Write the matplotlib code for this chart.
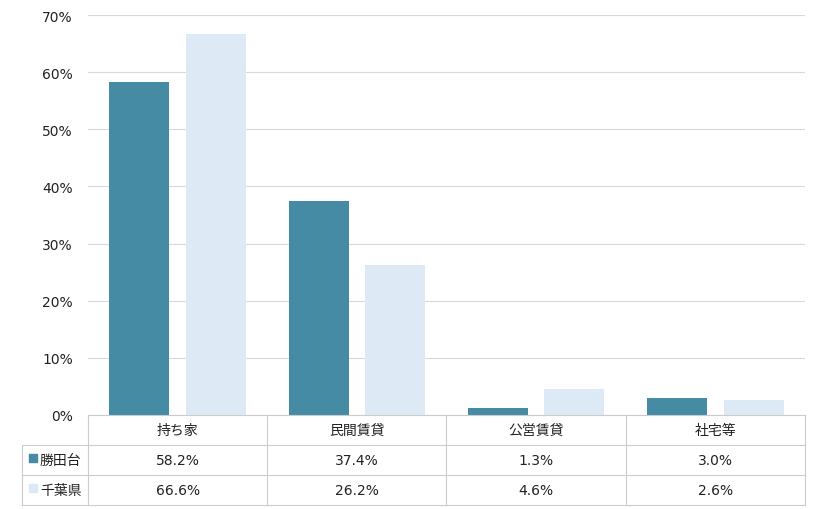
import matplotlib
matplotlib.use("Agg")
import matplotlib.pyplot as plt
import numpy as np

plt.rcParams['font.family'] = ['DejaVu Sans', 'Noto Sans CJK JP']

categories = ['持ち家', '民間賃貸', '公営賃貸', '社宅等']
series_names = ['勝田台', '千葉県']
katsutadai = [58.2, 37.4, 1.3, 3.0]
chiba = [66.6, 26.2, 4.6, 2.6]
yticks = [0, 10, 20, 30, 40, 50, 60, 70]
colors = ['#458BA3', '#DDE9F5']

W, H = 820, 510
fig = plt.figure(figsize=(W / 100, H / 100), dpi=100)

# plot area in pixels
px_left, px_right, px_top, px_bottom = 88, 805, 16, 416
ax = fig.add_axes([px_left / W, 1 - px_bottom / H, (px_right - px_left) / W, (px_bottom - px_top) / H])

x = np.arange(len(categories))
bw = 0.335
off = 0.213
ax.bar(x - off, katsutadai, width=bw, color=colors[0], zorder=3)
ax.bar(x + off, chiba, width=bw, color=colors[1], zorder=3)
ax.set_xlim(-0.5, len(categories) - 0.5)
ax.set_ylim(0, 70)
ax.set_yticks(yticks)
ax.set_yticklabels([f'{v}%' for v in yticks], fontsize=10, color='#222222')
ax.set_xticks([])
ax.tick_params(axis='y', length=0, pad=11)
ax.grid(axis='y', color='#d9d9d9', linewidth=0.8, zorder=0)
for s in ax.spines.values():
    s.set_visible(False)

# table area
tx0, tx1, ty0, ty1 = 22, 805, 416, 506
tax = fig.add_axes([tx0 / W, 1 - ty1 / H, (tx1 - tx0) / W, (ty1 - ty0) / H])
tax.set_xlim(tx0, tx1)
tax.set_ylim(ty1, ty0)
tax.axis('off')

lc = '#cccccc'
lw = 0.8
col_edges = np.linspace(px_left, px_right, len(categories) + 1)
row_edges = [416, 446, 476, 506]
# horizontal lines
tax.plot([px_left, px_right], [row_edges[0]] * 2, color=lc, lw=lw, clip_on=False)
for r in row_edges[1:]:
    tax.plot([tx0, px_right], [r, r], color=lc, lw=lw, clip_on=False)
# vertical lines
tax.plot([tx0, tx0], [row_edges[1], row_edges[3]], color=lc, lw=lw, clip_on=False)
for c in col_edges:
    tax.plot([c, c], [row_edges[0], row_edges[3]], color=lc, lw=lw, clip_on=False)

centers = (col_edges[:-1] + col_edges[1:]) / 2
fs = 10
for c, cat in zip(centers, categories):
    tax.text(c, 431, cat, ha='center', va='center', fontsize=fs, color='#222222')
for ri, (name, vals) in enumerate(zip(series_names, [katsutadai, chiba])):
    yc = (row_edges[ri + 1] + row_edges[ri + 2]) / 2
    tax.add_patch(plt.Rectangle((29, yc - 5.5), 8, 8, color=colors[ri], clip_on=False))
    tax.text(40, yc, name, ha='left', va='center', fontsize=fs, color='#222222')
    for c, v in zip(centers, vals):
        tax.text(c, yc, f'{v:.1f}%', ha='center', va='center', fontsize=fs, color='#222222')

fig.savefig('out.png', dpi=100)
